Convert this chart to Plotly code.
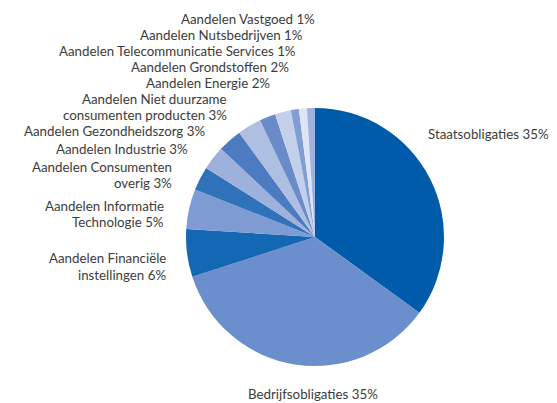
import plotly.graph_objects as go

W, H = 557, 403

labels = [
    "Staatsobligaties", "Bedrijfsobligaties", "Aandelen Financiële instellingen",
    "Aandelen Informatie Technologie", "Aandelen Consumenten overig",
    "Aandelen Industrie", "Aandelen Gezondheidszorg",
    "Aandelen Niet duurzame consumenten producten", "Aandelen Energie",
    "Aandelen Grondstoffen", "Aandelen Telecommunicatie Services",
    "Aandelen Nutsbedrijven", "Aandelen Vastgoed",
]
values = [35, 35, 6, 5, 3, 3, 3, 3, 2, 2, 1, 1, 1]
colors = [
    "#005bab", "#6b8fcd", "#1467b2", "#7e9bd3", "#2f72ba", "#9db1dc",
    "#4c7bc2", "#aebfe2", "#6a8bc9", "#c4d0ea", "#819dd5", "#dde4f3", "#9fb2dc",
]
# label lines per slice
label_lines = [
    ["Staatsobligaties 35%"], ["Bedrijfsobligaties 35%"],
    ["Aandelen Financiële", "instellingen 6%"],
    ["Aandelen Informatie", "Technologie 5%"],
    ["Aandelen Consumenten", "overig 3%"],
    ["Aandelen Industrie 3%"], ["Aandelen Gezondheidszorg 3%"],
    ["Aandelen Niet duurzame", "consumenten producten 3%"],
    ["Aandelen Energie 2%"], ["Aandelen Grondstoffen 2%"],
    ["Aandelen Telecommunicatie Services 1%"], ["Aandelen Nutsbedrijven 1%"],
    ["Aandelen Vastgoed 1%"],
]
# label placement in pixels: (x, [y of each line], anchor)
label_pos = [
    (427, [134], "left"), (247, [394], "left"),
    (167, [258, 275], "right"), (165, [206, 222], "right"),
    (173, [167, 183], "right"),
    (189, [149], "right"), (206, [131], "right"), (228, [99, 115], "right"),
    (271, [83], "right"), (290, [67], "right"), (297, [51], "right"),
    (304, [35], "right"), (316, [19], "right"),
]

cx, cy, r = 315, 237, 129

fig = go.Figure(go.Pie(
    labels=labels, values=values, sort=False, direction="clockwise",
    rotation=0, marker=dict(colors=colors, line=dict(width=0)),
    textinfo="none", hoverinfo="label+percent", showlegend=False,
    domain=dict(x=[(cx - r) / W, (cx + r) / W], y=[1 - (cy + r) / H, 1 - (cy - r) / H]),
))

for lines, (x, ys, anc) in zip(label_lines, label_pos):
    for t, y in zip(lines, ys):
        fig.add_annotation(
            x=x / W, y=1 - y / H, xref="paper", yref="paper", text=t,
            showarrow=False, xanchor=anc, yanchor="middle", align=anc,
            borderpad=0, font=dict(family="Lato", size=13.3, color="#3c3c3c"),
        )

fig.update_layout(
    width=W, height=H, margin=dict(l=0, r=0, t=0, b=0),
    paper_bgcolor="white", plot_bgcolor="white",
)
fig.write_html("out.html")
